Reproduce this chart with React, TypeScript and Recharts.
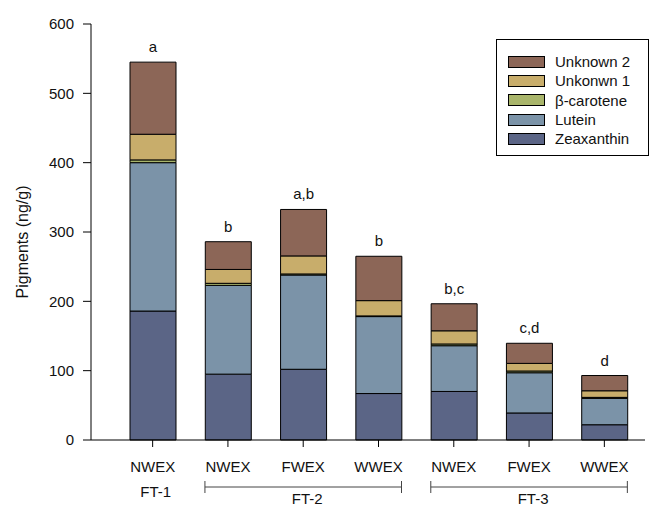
import React from 'react';
import { BarChart, Bar, XAxis, YAxis, Legend, LabelList } from 'recharts';

const categories = ['NWEX', 'NWEX', 'FWEX', 'WWEX', 'NWEX', 'FWEX', 'WWEX'];
const groups = ['FT-1', 'FT-2', 'FT-2', 'FT-2', 'FT-3', 'FT-3', 'FT-3'];
const letters = ['a', 'b', 'a,b', 'b', 'b,c', 'c,d', 'd'];

const zeaxanthin = [186, 95, 102, 67, 70, 39, 22];
const lutein = [214, 128, 136, 111, 66, 58, 38];
const betaCarotene = [4, 3, 1.5, 1, 2.5, 2.5, 1.5];
const unknown1 = [37, 20, 26, 22, 19, 11, 9.5];
const unknown2 = [104, 40, 67, 64, 39, 29, 22];

const yTicks = [0, 100, 200, 300, 400, 500, 600];

const series = [
  { key: 'zeaxanthin', name: 'Zeaxanthin', color: '#5b6586' },
  { key: 'lutein', name: 'Lutein', color: '#7b93a8' },
  { key: 'beta', name: 'β-carotene', color: '#a9b56b' },
  { key: 'unknown1', name: 'Unkonwn 1', color: '#c8ad6b' },
  { key: 'unknown2', name: 'Unknown 2', color: '#8c6657' },
];

const data = categories.map((c, i) => ({
  id: `${groups[i]}-${c}-${i}`,
  zeaxanthin: zeaxanthin[i],
  lutein: lutein[i],
  beta: betaCarotene[i],
  unknown1: unknown1[i],
  unknown2: unknown2[i],
}));

const FONT = 'Arial, "Liberation Sans", sans-serif';
const W = 667;
const H = 508;
const Y_AXIS_W = 91;
const MARGIN_R = 22;
const PAD_L = 24;
const PAD_R = 3;
const BAR_W = 46;
const BAND = (W - Y_AXIS_W - MARGIN_R - PAD_L - PAD_R) / categories.length;

function XTick(props: any) {
  const { x, y, index } = props;
  const g = groups[index];
  const first = groups.indexOf(g);
  const count = groups.filter((v) => v === g).length;
  let group: React.ReactNode = null;
  if (index === first) {
    if (count === 1) {
      group = (
        <text x={x + 3} y={y + 48} textAnchor="middle" fontSize={15} fontFamily={FONT} fill="#111">
          {g}
        </text>
      );
    } else {
      const x1 = x - BAR_W / 2;
      const x2 = x + (count - 1) * BAND + BAR_W / 2;
      const ly = y + 38;
      group = (
        <g>
          <line x1={x1} x2={x2} y1={ly} y2={ly} stroke="#444" strokeWidth={1} />
          <line x1={x1} x2={x1} y1={ly - 6} y2={ly + 6} stroke="#444" strokeWidth={1} />
          <line x1={x2} x2={x2} y1={ly - 6} y2={ly + 6} stroke="#444" strokeWidth={1} />
          <text x={(x1 + x2) / 2 + 4} y={y + 55} textAnchor="middle" fontSize={15} fontFamily={FONT} fill="#111">
            {g}
          </text>
        </g>
      );
    }
  }
  return (
    <g>
      <text x={x} y={y + 23} textAnchor="middle" fontSize={15} fontFamily={FONT} fill="#111">
        {categories[index]}
      </text>
      {group}
    </g>
  );
}

function LegendBox() {
  return (
    <div
      style={{
        border: '1px solid #000',
        width: 153,
        height: 117,
        boxSizing: 'border-box',
        padding: '12px 0 0 11px',
        background: '#fff',
        fontFamily: FONT,
        fontSize: 15,
        color: '#111',
        textAlign: 'left',
      }}
    >
      {[...series].reverse().map((s) => (
        <div key={s.key} style={{ display: 'flex', alignItems: 'center', height: 19.3 }}>
          <span
            style={{
              display: 'inline-block',
              width: 37,
              height: 12,
              boxSizing: 'border-box',
              border: '1px solid #000',
              background: s.color,
              marginRight: 10,
            }}
          />
          <span style={{ lineHeight: '19px' }}>{s.name}</span>
        </div>
      ))}
    </div>
  );
}

export default function App() {
  return (
    <div style={{ position: 'absolute', left: 0, top: 0, background: '#fff' }}>
      <BarChart width={W} height={H} data={data} margin={{ top: 24, right: MARGIN_R, bottom: 0, left: 0 }}>
        <XAxis
          dataKey="id"
          height={68}
          padding={{ left: PAD_L, right: PAD_R }}
          axisLine={{ stroke: '#000' }}
          tickLine={{ stroke: '#000' }}
          tickSize={7}
          tick={<XTick />}
          interval={0}
        />
        <YAxis
          width={Y_AXIS_W}
          domain={[0, 600]}
          ticks={yTicks}
          axisLine={{ stroke: '#000' }}
          tickLine={{ stroke: '#000' }}
          tickSize={8}
          tickMargin={9}
          tick={{ fill: '#111', fontSize: 15, fontFamily: FONT }}
          label={({ viewBox }: any) => (
            <text
              transform={`translate(${viewBox.x + 28}, ${viewBox.y + viewBox.height / 2 + 10}) rotate(-90)`}
              textAnchor="middle"
              fontSize={16}
              fontFamily={FONT}
              fill="#111"
            >
              Pigments (ng/g)
            </text>
          )}
        />
        <Legend
          layout="vertical"
          align="center"
          verticalAlign="middle"
          content={<LegendBox />}
          wrapperStyle={{ position: 'absolute', left: 496, top: 39, width: 'auto', height: 'auto' }}
        />
        {series.map((s, i) => (
          <Bar
            key={s.key}
            dataKey={s.key}
            name={s.name}
            stackId="p"
            fill={s.color}
            stroke="#000"
            strokeWidth={1}
            barSize={BAR_W}
            isAnimationActive={false}
          >
            {i === series.length - 1 && (
              <LabelList
                dataKey={s.key}
                content={(p: any) => (
                  <text
                    x={p.x + p.width / 2}
                    y={p.y - 10}
                    textAnchor="middle"
                    fontSize={15}
                    fontFamily={FONT}
                    fill="#111"
                  >
                    {letters[p.index]}
                  </text>
                )}
              />
            )}
          </Bar>
        ))}
      </BarChart>
    </div>
  );
}
